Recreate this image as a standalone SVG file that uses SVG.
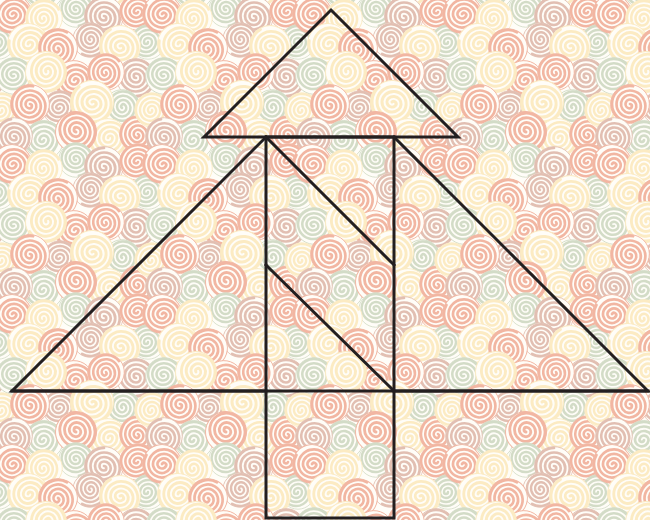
<svg xmlns="http://www.w3.org/2000/svg" xmlns:xlink="http://www.w3.org/1999/xlink" width="650" height="520" viewBox="0 0 650 520">
<style>
.sp{fill:none;stroke-width:3;stroke-linecap:round}
.a{stroke:#f2b6a2}.b{stroke:#fcebc3}.c{stroke:#d3dcc7}.d{stroke:#e2bfb2}
.ln{stroke:#231f20;stroke-width:3;fill:none;stroke-linecap:square;stroke-linejoin:miter}
</style>
<defs>
<g id="spiral">
<circle r="21.5" fill="#fffdf8"/>
<path class="sp" d="M0,0 a2.5,2.5 0 0 1 5,0 a5,5 0 0 1 -10,0 a7.5,7.5 0 0 1 15,0 a10,10 0 0 1 -20,0 a12.5,12.5 0 0 1 25,0 a15,15 0 0 1 -30,0 a17.5,17.5 0 0 1 35,0 a20,20 0 0 1 -40,0"/>
</g>
<g id="tile">
<use href="#spiral" class="c" transform="translate(76,10) rotate(260) scale(0.8)"/>
<use href="#spiral" class="a" transform="translate(12,14) rotate(30) scale(0.9)"/>
<use href="#spiral" class="d" transform="translate(104,16) rotate(90) scale(0.9)"/>
<use href="#spiral" class="b" transform="translate(44,18) rotate(150) scale(0.85)"/>
<use href="#spiral" class="a" transform="translate(138,12) rotate(200) scale(0.85)"/>
<use href="#spiral" class="d" transform="translate(90,40) rotate(300) scale(0.8)"/>
<use href="#spiral" class="c" transform="translate(148,42) rotate(180) scale(0.8)"/>
<use href="#spiral" class="b" transform="translate(28,44) rotate(10) scale(0.95)"/>
<use href="#spiral" class="a" transform="translate(58,48) rotate(120) scale(0.9)"/>
<use href="#spiral" class="b" transform="translate(120,46) rotate(60) scale(0.95)"/>
<use href="#spiral" class="c" transform="translate(14,76) rotate(240) scale(0.85)"/>
<use href="#spiral" class="a" transform="translate(74,80) rotate(20) scale(0.9)"/>
<use href="#spiral" class="d" transform="translate(136,78) rotate(270) scale(0.9)"/>
<use href="#spiral" class="b" transform="translate(46,72) rotate(330) scale(0.95)"/>
<use href="#spiral" class="a" transform="translate(106,72) rotate(140) scale(0.85)"/>
<use href="#spiral" class="d" transform="translate(60,108) rotate(210) scale(0.8)"/>
<use href="#spiral" class="c" transform="translate(122,108) rotate(310) scale(0.85)"/>
<use href="#spiral" class="b" transform="translate(2,110) rotate(160) scale(0.8)"/>
<use href="#spiral" class="a" transform="translate(30,104) rotate(100) scale(0.9)"/>
<use href="#spiral" class="b" transform="translate(92,102) rotate(50) scale(1)"/>
<use href="#spiral" class="c" transform="translate(44,140) rotate(190) scale(0.9)"/>
<use href="#spiral" class="d" transform="translate(14,136) rotate(80) scale(0.85)"/>
<use href="#spiral" class="b" transform="translate(108,138) rotate(0) scale(0.9)"/>
<use href="#spiral" class="a" transform="translate(76,132) rotate(280) scale(0.95)"/>
<use href="#spiral" class="a" transform="translate(138,134) rotate(120) scale(0.85)"/>
</g>
<pattern id="bgp" patternUnits="userSpaceOnUse" width="150" height="150">
<rect width="150" height="150" fill="#fffdf8"/>
<use href="#tile" x="-150" y="-150"/><use href="#tile" x="0" y="-150"/><use href="#tile" x="150" y="-150"/>
<use href="#tile" x="-150" y="0"/><use href="#tile" x="0" y="0"/><use href="#tile" x="150" y="0"/>
<use href="#tile" x="-150" y="150"/><use href="#tile" x="0" y="150"/><use href="#tile" x="150" y="150"/>
</pattern>
</defs>
<rect id="background" width="650" height="520" fill="url(#bgp)"/>
<g id="connectors">
<polygon id="top-triangle" class="ln" points="331,10 458,137 204,137"/>
<polyline id="left-triangle" class="ln" points="266,137 12,391 266,391"/>
<polyline id="right-triangle" class="ln" points="394,137 648,391 394,391"/>
<line class="ln" x1="12" y1="391" x2="648" y2="391"/>
<rect id="stem" class="ln" x="266" y="137" width="128" height="381"/>
<line class="ln" x1="266" y1="137" x2="394" y2="265"/>
<line class="ln" x1="266" y1="265" x2="394" y2="391"/>
</g>
</svg>
